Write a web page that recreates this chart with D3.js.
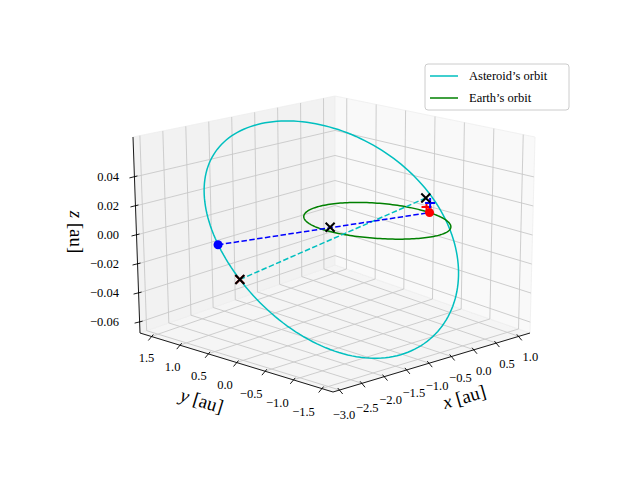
<!DOCTYPE html>
<html>
<head>
<meta charset="utf-8">
<script src="https://cdn.jsdelivr.net/npm/d3@7"></script>
<style>
  body { margin: 0; background: #fff; }
  text { font-family: "Liberation Serif", "DejaVu Serif", serif; }
</style>
</head>
<body>
<div id="chart"></div>
<script>
// axis limits and ticks
const xLim = [-3.15, 1.25];
const yLim = [-1.7, 1.7];
const zLim = [-0.0675, 0.0675];
const xTicks = [-3.0, -2.5, -2.0, -1.5, -1.0, -0.5, 0.0, 0.5, 1.0];
const yTicks = [-1.5, -1.0, -0.5, 0.0, 0.5, 1.0, 1.5];
const zTicks = [-0.06, -0.04, -0.02, 0.00, 0.02, 0.04];

// orbits (anomaly samples in degrees)
const asteroidCenter = [-1.0, 0.0];
const asteroidAxes = [2.05, 1.5];
const asteroidTilt = 0.062;
const asteroidPeakDeg = 75;
const earthRadius = 1.0;

// marked positions [x, y, z]
const earthPos = [0.99, -0.13, 0.0];
const asteroidPos = [-2.96, 0.44, 0.002];
const crossNear = [1.045, -0.02, 0.009];
const crossFar = [-3.05, 0.0, -0.016];
const plusRed = [0.96, -0.1, 0.004];
const plusBlue = [1.0, -0.13, 0.007];
const midFraction = 0.53;

const width = 640, height = 480;
const svg = d3.select('#chart').append('svg')
    .attr('width', width).attr('height', height);

const u = d3.scaleLinear().domain(xLim).range([0, 1]);
const v = d3.scaleLinear().domain(yLim).range([0, 1]);
const w = d3.scaleLinear().domain(zLim).range([0, 1]);

// page position of the box corners, indexed [a][b][c]; blended in between
const corners = {
    '000': [333, 392], '100': [530, 333], '010': [140, 333], '110': [335, 265],
    '001': [334, 159], '101': [535, 137], '011': [133, 137], '111': [335, 96]
};
function P(x, y, z) {
    const a = u(x), b = v(y), c = w(z);
    let sx = 0, sy = 0;
    [0, 1].forEach(i => [0, 1].forEach(j => [0, 1].forEach(k => {
        const f = (i ? a : 1 - a) * (j ? b : 1 - b) * (k ? c : 1 - c);
        const p = corners['' + i + j + k];
        sx += f * p[0]; sy += f * p[1];
    })));
    return [sx, sy];
}
const line2 = d3.line();

// panes
const X0 = xLim[0], X1 = xLim[1], Y0 = yLim[0], Y1 = yLim[1], Z0 = zLim[0], Z1 = zLim[1];
const panes = [
    { pts: [[X0, Y0, Z0], [X1, Y0, Z0], [X1, Y1, Z0], [X0, Y1, Z0]], fill: '#f5f5f5' },
    { pts: [[X0, Y1, Z0], [X1, Y1, Z0], [X1, Y1, Z1], [X0, Y1, Z1]], fill: '#f2f2f2' },
    { pts: [[X1, Y0, Z0], [X1, Y1, Z0], [X1, Y1, Z1], [X1, Y0, Z1]], fill: '#f9f9f9' }
];
svg.selectAll('.pane').data(panes).join('path')
    .attr('d', d => line2(d.pts.map(p => P(...p))) + 'Z')
    .attr('fill', d => d.fill).attr('stroke', '#eeeeee').attr('stroke-width', 0.8);

// grid lines
const grid = [];
xTicks.forEach(t => {
    grid.push([[t, Y0, Z0], [t, Y1, Z0]]);
    grid.push([[t, Y1, Z0], [t, Y1, Z1]]);
});
yTicks.forEach(t => {
    grid.push([[X0, t, Z0], [X1, t, Z0]]);
    grid.push([[X1, t, Z0], [X1, t, Z1]]);
});
zTicks.forEach(t => {
    grid.push([[X0, Y1, t], [X1, Y1, t]]);
    grid.push([[X1, Y1, t], [X1, Y0, t]]);
});
svg.append('g').selectAll('path').data(grid).join('path')
    .attr('d', d => line2(d.map(p => P(...p))))
    .attr('stroke', '#c8c8c8').attr('stroke-width', 0.9).attr('fill', 'none');

// axis lines
const axes = [
    [[X0, Y0, Z0], [X1, Y0, Z0]],
    [[X0, Y0, Z0], [X0, Y1, Z0]],
    [[X0, Y1, Z0], [X0, Y1, Z1]]
];
svg.append('g').selectAll('path').data(axes).join('path')
    .attr('d', d => line2(d.map(p => P(...p))))
    .attr('stroke', '#000').attr('stroke-width', 0.9).attr('fill', 'none');

const fmt = t => (t < 0 ? '\u2212' : '') + Math.abs(t).toFixed(1);
const fmtZ = t => (t < 0 ? '\u2212' : '') + Math.abs(t).toFixed(2);

// x ticks
const xg = svg.append('g');
xTicks.forEach(t => {
    const p = P(t, Y0, Z0);
    xg.append('line').attr('x1', p[0] - 2).attr('y1', p[1] - 2).attr('x2', p[0] + 3).attr('y2', p[1] + 4)
        .attr('stroke', '#000').attr('stroke-width', 0.9);
    const a = u(t);
    xg.append('text').attr('x', p[0] + 4 + 8 * a).attr('y', p[1] + 29 - 5 * a)
        .attr('text-anchor', 'middle').attr('font-size', 12.5).text(fmt(t));
});
// y ticks
const yg = svg.append('g');
yTicks.forEach(t => {
    const p = P(X0, t, Z0);
    yg.append('line').attr('x1', p[0] + 2).attr('y1', p[1] - 2).attr('x2', p[0] - 3).attr('y2', p[1] + 4)
        .attr('stroke', '#000').attr('stroke-width', 0.9);
    const b = v(t);
    yg.append('text').attr('x', p[0] - 19 + 15 * b).attr('y', p[1] + 28 - 3 * b)
        .attr('text-anchor', 'middle').attr('font-size', 12.5).text(fmt(t));
});
// z ticks
const zg = svg.append('g');
zTicks.forEach(t => {
    const p = P(X0, Y1, t);
    zg.append('line').attr('x1', p[0] - 5).attr('y1', p[1] + 1).attr('x2', p[0] + 3).attr('y2', p[1] - 1)
        .attr('stroke', '#000').attr('stroke-width', 0.9);
    zg.append('text').attr('x', 119).attr('y', p[1] + 4)
        .attr('text-anchor', 'end').attr('font-size', 12.5).text(fmtZ(t));
});

// axis labels
function axisLabel(x, y, rot, letter) {
    const t = svg.append('text').attr('transform', `translate(${x},${y}) rotate(${rot})`)
        .attr('text-anchor', 'middle').attr('font-size', 19);
    t.append('tspan').attr('font-style', 'italic').text(letter);
    t.append('tspan').text(' [au]');
}
axisLabel(466, 403, -16, 'x');
axisLabel(200, 407, 17, 'y');
axisLabel(70, 232, 90, 'z');

// orbits
const angles = d3.range(0, 361, 2);
const asteroidOrbit = angles.map(d => {
    const r = d * Math.PI / 180;
    return [asteroidCenter[0] + asteroidAxes[0] * Math.cos(r),
            asteroidCenter[1] + asteroidAxes[1] * Math.sin(r),
            asteroidTilt * Math.cos(r - asteroidPeakDeg * Math.PI / 180)];
});
const earthOrbit = angles.map(d => {
    const r = d * Math.PI / 180;
    return [earthRadius * Math.cos(r), earthRadius * Math.sin(r), 0];
});
svg.append('path').attr('d', line2(asteroidOrbit.map(p => P(...p))))
    .attr('fill', 'none').attr('stroke', '#00bfbf').attr('stroke-width', 1.5);
svg.append('path').attr('d', line2(earthOrbit.map(p => P(...p))))
    .attr('fill', 'none').attr('stroke', '#008000').attr('stroke-width', 1.5);

// connecting lines
const mid = asteroidPos.map((a, i) => a + midFraction * (earthPos[i] - a));
svg.append('path').attr('d', line2([P(...crossFar), P(...crossNear)]))
    .attr('fill', 'none').attr('stroke', '#00bfbf').attr('stroke-width', 1.5).attr('stroke-dasharray', '5.5,2.4');
svg.append('path').attr('d', line2([P(...asteroidPos), P(...earthPos)]))
    .attr('fill', 'none').attr('stroke', '#0000ff').attr('stroke-width', 1.5).attr('stroke-dasharray', '5.5,2.4');

// markers
function dot(p, color) {
    const s = P(...p);
    svg.append('circle').attr('cx', s[0]).attr('cy', s[1]).attr('r', 4.5).attr('fill', color);
}
function cross(p, color, size, sw) {
    const s = P(...p);
    svg.append('path').attr('d', `M${s[0] - size},${s[1] - size}L${s[0] + size},${s[1] + size}M${s[0] - size},${s[1] + size}L${s[0] + size},${s[1] - size}`)
        .attr('stroke', color).attr('stroke-width', sw);
}
function plus(p, color) {
    const s = P(...p);
    svg.append('path').attr('d', `M${s[0] - 5},${s[1]}L${s[0] + 5},${s[1]}M${s[0]},${s[1] - 5}L${s[0]},${s[1] + 5}`)
        .attr('stroke', color).attr('stroke-width', 2);
}
dot(asteroidPos, '#0000ff');
dot(earthPos, '#ff0000');
plus(plusRed, '#ff0000');
plus(plusBlue, '#0000ff');
cross(crossFar, '#ff0000', 4, 2);
cross(crossFar, '#000', 4.5, 2);
cross(crossNear, '#000', 4.5, 2);
cross(mid, '#000', 4.5, 2);

// legend
const lg = svg.append('g').attr('transform', 'translate(425,64)');
lg.append('rect').attr('width', 144).attr('height', 46).attr('rx', 3)
    .attr('fill', '#fff').attr('fill-opacity', 0.8).attr('stroke', '#cccccc');
const legendItems = [["Asteroid\u2019s orbit", '#00bfbf'], ["Earth\u2019s orbit", '#008000']];
legendItems.forEach((d, i) => {
    const y = 12 + i * 22;
    lg.append('line').attr('x1', 5).attr('x2', 33).attr('y1', y).attr('y2', y)
        .attr('stroke', d[1]).attr('stroke-width', 1.5);
    lg.append('text').attr('x', 44).attr('y', y + 4).attr('font-size', 12.5).text(d[0]);
});
</script>
</body>
</html>
